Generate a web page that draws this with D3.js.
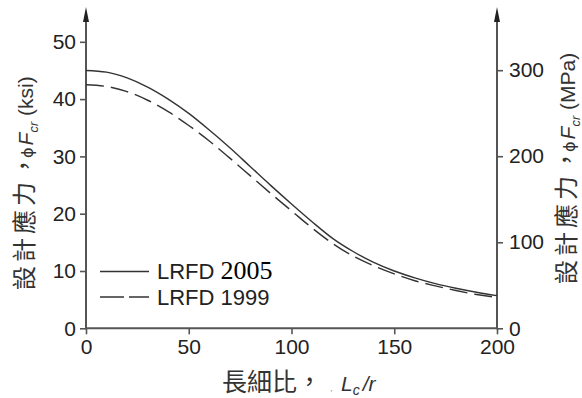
<!DOCTYPE html>
<html><head><meta charset="utf-8">
<script src="https://cdn.jsdelivr.net/npm/d3@7"></script>
<style>
html,body{margin:0;padding:0;background:#fff;}
svg{display:block;}
</style></head>
<body>
<svg id="chart" width="582" height="398"></svg>
<script>
// Slenderness ratio L_c/r
const slenderness = [0,10,20,30,40,50,60,70,80,90,100,110,120,130,140,150,160,170,180,190,200];
// φFcr (ksi), LRFD 2005 (solid)
const lrfd2005 = [45.0,44.7,43.7,42.1,40.0,37.5,34.6,31.5,28.2,24.9,21.7,18.6,15.7,13.4,11.5,10.0,8.8,7.8,7.0,6.3,5.7];
// φFcr (ksi), LRFD 1999 (dashed)
const lrfd1999 = [42.5,42.2,41.3,39.8,37.8,35.4,32.7,29.7,26.6,23.5,20.5,17.5,14.8,12.6,10.9,9.5,8.3,7.4,6.6,5.9,5.4];
const xTicks = [0,50,100,150,200];
const ksiTicks = [0,10,20,30,40,50];
const mpaTicks = [0,100,200,300];

const svg = d3.select("#chart");
const axisColor = "#555";
const lineColor = "#333";
const sans = "'Liberation Sans', Arial, sans-serif";
const cjk = "'Noto Sans CJK TC', 'Noto Sans CJK SC', sans-serif";

const x = d3.scaleLinear().domain([0,200]).range([86,497]);
const yL = d3.scaleLinear().domain([0,50]).range([328.3,41.8]);
const yR = d3.scaleLinear().domain([0,333]).range([328.3,41.8]);

function styleAxis(g){
  g.select(".domain").remove();
  g.selectAll(".tick line").attr("stroke",axisColor).attr("stroke-width",1.6);
  g.selectAll(".tick text").attr("fill","#222").style("font-family",sans).style("font-size","21px");
}

svg.append("g").attr("transform",`translate(${x(0)},0)`)
  .call(d3.axisLeft(yL).tickValues(ksiTicks).tickSize(6).tickPadding(4).tickFormat(d3.format("d")))
  .call(styleAxis);
svg.append("g").attr("transform",`translate(${x(200)},0)`)
  .call(d3.axisRight(yR).tickValues(mpaTicks).tickSize(6).tickPadding(6).tickFormat(d3.format("d")))
  .call(styleAxis);
svg.append("g").attr("transform",`translate(0,${yL(0)})`)
  .call(d3.axisBottom(x).tickValues(xTicks).tickSize(6).tickPadding(5).tickFormat(d3.format("d")))
  .call(styleAxis);

// axis lines
svg.append("line").attr("x1",x(0)).attr("x2",x(200)).attr("y1",yL(0)).attr("y2",yL(0))
  .attr("stroke",axisColor).attr("stroke-width",2);
[x(0), x(200)].forEach(px=>{
  svg.append("line").attr("x1",px).attr("x2",px).attr("y1",yL(0)+1).attr("y2",18)
    .attr("stroke",axisColor).attr("stroke-width",2);
  svg.append("path").attr("d",`M${px-3},22 L${px},7 L${px+3},22 Z`).attr("fill","#222");
});

// curves
const line = d3.line().x((d,i)=>x(slenderness[i])).y(d=>yL(d)).curve(d3.curveMonotoneX);
svg.append("path").attr("d",line(lrfd2005)).attr("fill","none")
  .attr("stroke",lineColor).attr("stroke-width",1.4);
svg.append("path").attr("d",line(lrfd1999)).attr("fill","none")
  .attr("stroke",lineColor).attr("stroke-width",1.4).attr("stroke-dasharray","18,7");

// legend
const lg = svg.append("g");
lg.append("line").attr("x1",100).attr("x2",149).attr("y1",271.5).attr("y2",271.5)
  .attr("stroke",lineColor).attr("stroke-width",1.4);
lg.append("line").attr("x1",100).attr("x2",149).attr("y1",297).attr("y2",297)
  .attr("stroke",lineColor).attr("stroke-width",1.4).attr("stroke-dasharray","24,5");
const t1 = lg.append("text").attr("x",157).attr("y",279).attr("fill","#222");
t1.append("tspan").style("font-family",sans).style("font-size","22px").text("LRFD ");
t1.append("tspan").style("font-family","'Liberation Serif', 'Times New Roman', serif").style("font-size","26px").attr("fill","#000").text("2005");
lg.append("text").attr("x",157).attr("y",305).attr("fill","#222")
  .style("font-family",sans).style("font-size","22px").text("LRFD 1999");

// axis titles (rotated, reading bottom to top)
function yTitle(bx, by, unit){
  const t = svg.append("text").attr("transform",`translate(${bx},${by}) rotate(-90)`)
    .attr("text-anchor","start").attr("fill","#333");
  t.append("tspan").style("font-family",cjk).style("font-size","24px").style("letter-spacing","4px").text("設計應力");
  t.append("tspan").style("font-family",cjk).style("font-size","24px").text("，");
  t.append("tspan").style("font-family","'DejaVu Sans', sans-serif").style("font-size","16px").attr("dx",-4).text("ϕ");
  t.append("tspan").style("font-family",sans).style("font-size","21px").style("font-style","italic").attr("dx",2).text("F");
  t.append("tspan").style("font-family",sans).style("font-size","13px").style("font-style","italic").attr("dy",5).text("cr");
  t.append("tspan").style("font-family",sans).style("font-size","21px").attr("dy",-5).text(" (" + unit + ")");
}
yTitle(33, 290, "ksi");
yTitle(575, 284, "MPa");

const xt = svg.append("text").attr("y",391).attr("fill","#333");
xt.append("tspan").attr("x",222).style("font-family",cjk).style("font-size","25px").text("長細比，");
xt.append("tspan").attr("x",330).style("font-family",sans).style("font-size","9px").attr("fill","#999").text(",");
xt.append("tspan").attr("x",341).style("font-family",sans).style("font-size","21px").style("font-style","italic").text("L");
xt.append("tspan").style("font-family",sans).style("font-size","14px").style("font-style","italic").attr("dy",4).text("c");
xt.append("tspan").style("font-family",sans).style("font-size","21px").style("font-style","italic").attr("dy",-4).attr("dx",3).text("/r");
</script>
</body></html>
